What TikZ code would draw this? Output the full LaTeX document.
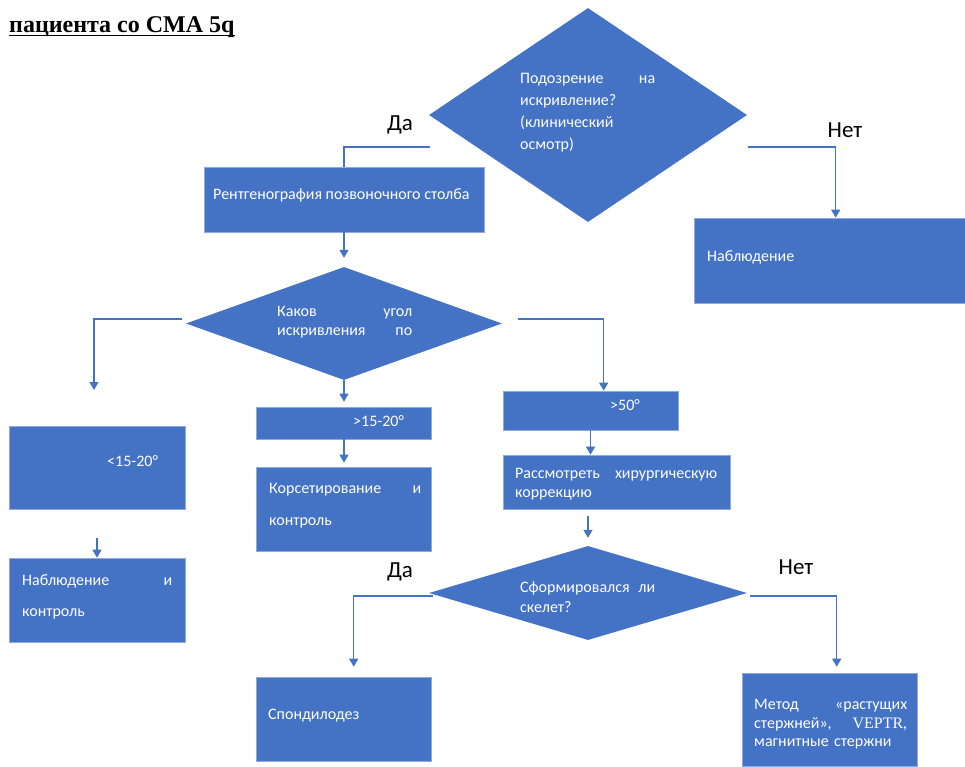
\documentclass[tikz,border=0pt]{standalone}
\usepackage{fontspec}
\setmainfont{Carlito}
\newfontfamily\titlefont{Liberation Serif}
\newfontfamily\serifpart{Liberation Serif}
\usetikzlibrary{shapes.geometric,arrows.meta,calc}
\definecolor{ofblue}{HTML}{4472C4}
\definecolor{edgeblue}{HTML}{8FAADC}
\tikzset{
  blk/.style={fill=ofblue, draw=edgeblue, line width=0.6pt, inner sep=0, anchor=center},
  dmd/.style={diamond, fill=ofblue, draw=none, inner sep=0},
  txt/.style={text=white, inner sep=0, anchor=base west, align=left, font=\fontsize{16}{22}\selectfont},
  conn/.style={draw=ofblue, line width=1.3pt},
  arr/.style={conn, -{Triangle[width=9pt,length=8pt]}},
  lbl/.style={font=\fontsize{23}{27}\selectfont, text=black, inner sep=0},
}
\begin{document}
\begin{tikzpicture}[x=1pt,y=-1pt]
\useasboundingbox (0,0) rectangle (965,767);
% title
\node[font=\titlefont\bfseries\fontsize{24}{28}\selectfont, anchor=base west, inner sep=0] (title) at (9,33) {пациента со СМА 5q};
\draw[line width=1.2pt] ($(title.base west)+(0,2.5)$) -- ($(title.base east)+(0,2.5)$);

% diamonds
\node[dmd, minimum width=318pt, minimum height=214pt] (d1) at (588,115) {};
\node[dmd, minimum width=316pt, minimum height=113pt] (d2) at (344,323.5) {};
\node[dmd, minimum width=318pt, minimum height=94pt] (d3) at (588,593) {};

% boxes
\node[blk, minimum width=280pt, minimum height=65pt] (xray) at (344,199.5) {};
\node[blk, minimum width=272pt, minimum height=85pt] (obs1) at (830,260.5) {};
\node[blk, minimum width=175pt, minimum height=32pt] (g15) at (344,423) {};
\node[blk, minimum width=175pt, minimum height=84pt] (corset) at (344,509) {};
\node[blk, minimum width=176pt, minimum height=83pt] (l15) at (97,467.5) {};
\node[blk, minimum width=176pt, minimum height=84pt] (obs2) at (97,600) {};
\node[blk, minimum width=175pt, minimum height=39pt] (g50) at (590.5,410.5) {};
\node[blk, minimum width=227pt, minimum height=54pt] (surg) at (616.5,482) {};
\node[blk, minimum width=175pt, minimum height=84pt] (spondy) at (343.5,719) {};
\node[blk, minimum width=175pt, minimum height=93pt] (method) at (829.5,719.5) {};

% texts
\node[txt, text width=135pt] (d1t) at (520,83.5) {Подозрение\hfill на\\искривление?\\(клинический\\осмотр)};
\node[txt] (xrayt) at (213,199.5) {Рентгенография позвоночного столба};
\node[txt] (obs1t) at (707,261.5) {Наблюдение};
\node[txt, text width=135pt, font=\fontsize{16}{19}\selectfont] (d2t) at (277,316.5) {Каков\hfill угол\\искривления\hfill по};
\node[txt] (g15t) at (353,426.5) {>15-20°};
\node[txt] (l15t) at (107,466.5) {<15-20°};
\node[txt, text width=152pt, font=\fontsize{16}{32}\selectfont] (corsett) at (269,493.5) {Корсетирование\hfill и\\контроль};
\node[txt, text width=150pt, font=\fontsize{16}{31}\selectfont] (obs2t) at (22,585.5) {Наблюдение\hfill и\\контроль};
\node[txt] (g50t) at (610,410.5) {>50°};
\node[txt, text width=202pt, font=\fontsize{16}{19}\selectfont] (surgt) at (515,478.5) {Рассмотреть\hfill хирургическую\\коррекцию};
\node[txt, text width=135pt, font=\fontsize{16}{20}\selectfont] (d3t) at (520,592.5) {Сформировался\hfill ли\\скелет?};
\node[txt] (spondyt) at (268,719.5) {Спондилодез};
\node[txt, text width=153pt, font=\fontsize{16}{18.5}\selectfont] (methodt) at (754,709.5) {Метод\hfill «растущих\\стержней»,\hfill {\serifpart VEPTR,}\\магнитные стержни};

% labels
\node[lbl] (yes1) at (400,125) {Да};
\node[lbl] (no1) at (845,130) {Нет};
\node[lbl] (yes2) at (400,572) {Да};
\node[lbl] (no2) at (796,567) {Нет};

% connector free ends
\coordinate (d1L) at (430,147);
\coordinate (d1R) at (748,147);
\coordinate (d2L) at (182,319);
\coordinate (d2R) at (518,319);
\coordinate (a2) at (94,390);
\coordinate (a4) at (97,538);
\coordinate (a5) at (588,516);
\coordinate (d3L) at (433,596);
\coordinate (d3R) at (750,596);

% connectors
\draw[conn] (d1L) -| (xray.north);
\draw[arr] (d1R) -| ($(obs1.north west)+(142,0)$);
\draw[arr, shorten >=9pt] (xray.south) -- (d2.north);
\draw[arr] (d2L) -| (a2);
\draw[arr, shorten >=5pt] (d2.south) -- (g15.north);
\draw[arr] (d2R) -| ($(g50.north west)+(101,0)$);
\draw[arr, shorten >=4pt] (g15.south) -- (corset.north);
\draw[arr] (a4) -- (obs2.north);
\draw[arr] (g50.south) -- (g50.south |- surg.north);
\draw[arr, shorten >=8pt] (a5) -- (d3.north);
\draw[arr, shorten >=10pt] (d3L) -| ($(spondy.north west)+(98,0)$);
\draw[arr, shorten >=6pt] (d3R) -| ($(method.north west)+(95,0)$);
\end{tikzpicture}
\end{document}
